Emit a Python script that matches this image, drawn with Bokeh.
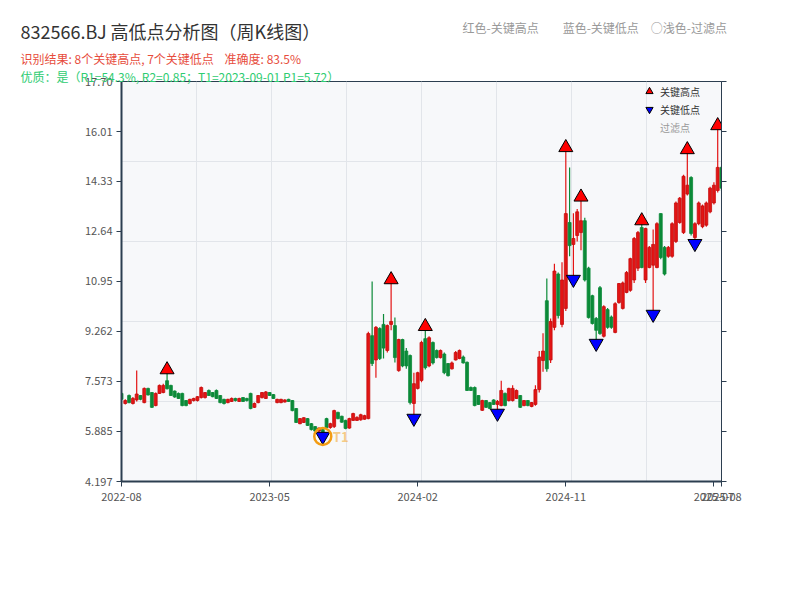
from bokeh.plotting import figure
from bokeh.models import (Range1d, LinearAxis, FixedTicker, Title, Legend, LegendItem,
                          ColumnDataSource)
from bokeh.embed import file_html
from bokeh.resources import INLINE
from bokeh.core.properties import value

# ---------------- data (weekly candles) ----------------
open_ = [7.17, 6.83, 7.10, 6.83, 6.95, 7.10, 6.86, 7.34, 7.20, 6.76,
         7.17, 7.20, 7.60, 7.44, 7.25, 7.17, 7.17, 6.93, 6.83, 6.93,
         6.93, 7.03, 7.03, 7.27, 7.20, 7.27, 7.10, 6.97, 6.86, 6.90,
         7.00, 6.90, 7.03, 7.00, 7.17, 6.70, 6.86, 7.03, 7.00, 7.20,
         7.13, 6.86, 6.86, 6.88, 6.97, 6.93, 6.66, 6.15, 6.19, 6.32,
         6.15, 6.05, 5.90, 5.95, 6.32, 6.02, 6.05, 6.53, 6.40, 6.26,
         6.00, 6.26, 6.26, 6.28, 6.30, 6.32, 9.12, 8.30, 9.36, 9.50,
         8.62, 9.50, 9.46, 7.94, 8.99, 8.60, 8.45, 6.83, 7.34, 7.61,
         9.02, 8.10, 8.89, 8.62, 8.38, 8.50, 8.18, 8.00, 8.30, 8.35,
         8.40, 8.22, 7.37, 7.37, 7.10, 6.60, 6.93, 6.86, 6.95, 6.80,
         6.76, 7.17, 6.93, 6.93, 7.00, 7.10, 6.76, 6.93, 6.73, 6.80,
         7.30, 8.28, 10.30, 8.30, 9.40, 11.20, 9.50, 10.04, 12.94, 12.20,
         12.50, 12.60, 13.00, 11.40, 10.47, 9.70, 10.74, 9.10, 10.00, 9.75,
         9.23, 10.24, 10.04, 10.58, 10.65, 11.00, 11.40, 12.77, 11.00, 11.42,
         11.50, 11.42, 13.24, 12.10, 11.80, 11.80, 12.30, 12.94, 12.60, 13.90,
         14.46, 12.43, 12.90, 12.80, 12.85, 13.30, 13.60, 14.02, 14.80]
high = [7.20, 6.97, 7.13, 7.05, 7.94, 7.12, 7.37, 7.36, 7.22, 7.20,
        7.47, 7.50, 7.97, 7.46, 7.27, 7.20, 7.19, 6.95, 6.99, 7.02,
        7.08, 7.40, 7.22, 7.30, 7.22, 7.30, 7.12, 6.99, 6.99, 7.03,
        7.02, 7.02, 7.05, 7.02, 7.19, 6.86, 7.12, 7.22, 7.25, 7.22,
        7.15, 6.99, 6.99, 6.97, 6.99, 6.95, 6.68, 6.34, 6.37, 6.34,
        6.17, 6.07, 6.02, 5.97, 6.35, 6.18, 6.62, 6.55, 6.42, 6.28,
        6.35, 6.52, 6.40, 6.48, 6.45, 9.25, 10.95, 9.45, 9.40, 9.85,
        9.50, 11.01, 9.73, 9.02, 9.02, 8.70, 8.48, 7.87, 7.90, 8.95,
        9.43, 9.10, 8.92, 8.65, 8.65, 8.55, 8.20, 8.25, 8.60, 8.65,
        8.45, 8.25, 7.40, 7.40, 7.12, 6.96, 6.95, 6.88, 6.97, 6.95,
        7.60, 7.20, 7.36, 7.45, 7.30, 7.12, 6.95, 6.95, 6.88, 7.45,
        8.60, 9.20, 11.05, 9.70, 11.55, 11.25, 11.60, 15.47, 14.80, 13.25,
        13.40, 13.80, 13.10, 11.45, 10.50, 9.75, 10.80, 10.15, 10.05, 9.80,
        10.25, 10.90, 10.95, 11.30, 11.75, 12.45, 12.65, 13.00, 12.76, 12.15,
        12.70, 12.95, 13.25, 12.15, 12.15, 12.95, 13.65, 13.80, 14.55, 15.40,
        14.50, 12.95, 13.65, 13.55, 13.65, 14.15, 14.30, 16.21, 14.85]
low = [6.95, 6.80, 6.84, 6.80, 6.90, 6.94, 6.84, 7.10, 6.68, 6.74,
       7.15, 7.18, 7.30, 7.08, 7.02, 6.98, 6.74, 6.74, 6.80, 6.90,
       6.90, 7.00, 7.00, 7.08, 7.04, 6.98, 6.84, 6.80, 6.84, 6.88,
       6.90, 6.88, 6.88, 6.90, 6.64, 6.68, 6.84, 7.00, 6.98, 7.08,
       6.98, 6.84, 6.84, 6.86, 6.88, 6.57, 6.17, 6.13, 6.17, 6.07,
       5.92, 5.85, 5.85, 5.72, 5.98, 5.98, 6.00, 6.30, 6.18, 5.96,
       5.98, 6.24, 6.24, 6.25, 6.28, 6.30, 8.10, 7.70, 8.30, 8.35,
       8.55, 9.30, 8.21, 7.90, 8.05, 8.00, 6.80, 6.33, 7.30, 7.55,
       7.98, 8.05, 8.15, 8.35, 8.35, 7.82, 7.74, 7.98, 8.28, 8.32,
       8.18, 7.25, 7.25, 6.74, 6.78, 6.58, 6.68, 6.64, 6.78, 6.50,
       6.74, 6.74, 6.90, 6.90, 6.98, 6.68, 6.74, 6.74, 6.70, 6.75,
       7.20, 7.90, 7.90, 8.20, 9.30, 9.70, 9.40, 9.95, 11.80, 11.02,
       12.30, 12.00, 10.95, 9.70, 9.50, 8.86, 9.15, 9.06, 9.35, 9.35,
       9.20, 10.20, 10.00, 10.55, 10.60, 10.90, 11.30, 11.40, 10.90, 11.40,
       9.84, 11.40, 11.70, 11.15, 11.75, 11.75, 12.25, 12.90, 12.55, 13.85,
       12.50, 12.23, 12.85, 12.75, 12.80, 13.25, 13.55, 13.95, 14.00]
close = [6.97, 6.93, 6.86, 7.00, 7.15, 6.97, 7.34, 7.12, 6.70, 7.17,
         7.44, 7.44, 7.33, 7.10, 7.05, 7.00, 6.76, 6.76, 6.97, 7.00,
         7.06, 7.37, 7.20, 7.10, 7.06, 7.00, 6.86, 6.83, 6.97, 7.00,
         6.93, 7.00, 6.90, 6.93, 6.66, 6.83, 7.10, 7.20, 7.22, 7.10,
         7.00, 6.97, 6.97, 6.95, 6.90, 6.59, 6.19, 6.32, 6.35, 6.09,
         5.95, 5.90, 6.00, 5.78, 6.02, 6.15, 6.59, 6.32, 6.20, 5.99,
         6.32, 6.49, 6.36, 6.45, 6.42, 9.19, 8.18, 9.40, 8.35, 8.70,
         9.46, 9.60, 8.38, 8.99, 8.10, 8.10, 6.86, 7.50, 7.87, 8.89,
         8.04, 9.05, 8.20, 8.38, 8.62, 7.87, 7.77, 8.20, 8.55, 8.62,
         8.20, 7.27, 7.27, 6.76, 6.80, 6.93, 6.70, 6.66, 6.80, 6.90,
         7.27, 6.76, 7.34, 7.34, 7.27, 6.70, 6.93, 6.76, 6.86, 7.30,
         8.40, 8.60, 8.00, 9.60, 11.30, 9.80, 11.00, 13.24, 12.16, 12.40,
         13.30, 13.00, 11.00, 9.73, 9.53, 9.30, 9.19, 10.10, 9.40, 9.40,
         10.20, 10.88, 10.90, 11.25, 11.72, 12.40, 12.60, 11.42, 12.74, 12.10,
         12.20, 12.90, 11.76, 11.20, 12.10, 12.90, 13.60, 13.76, 14.50, 14.20,
         12.57, 12.90, 13.60, 13.50, 13.60, 14.10, 14.20, 14.80, 14.10]

key_high_idx = [12, 71, 80, 117, 121, 137, 149, 157]
key_low_idx = [53, 77, 99, 119, 125, 140, 151]
t1_idx = 53

xtick_idx = [0, 39, 78, 117, 156, 158]
xtick_labels = ["2022-08", "2023-05", "2024-02", "2024-11", "2025-07", "2025-08"]
ytick_labels = ["4.197", "5.885", "7.573", "9.262", "10.95", "12.64", "14.33", "16.01", "17.70"]
y_min, y_max = 4.197, 17.70

NB = "\u00a0"
IS = "\u3000"
title_main = "832566.BJ 高低点分析图（周K线图）"
title_red = "识别结果: 8个关键高点, 7个关键低点 " + NB * 3 + "准确度: 83.5%"
title_green = "优质：是（R1=54.3%, R2=0.85；T1=2023-09-01 P1=5.72）"
subtitle = "红色-关键高点" + IS * 2 + "蓝色-关键低点" + IS + "○浅色-过滤点"

# ---------------- figure ----------------
FONT = "Noto Sans CJK SC"
N = len(close)
xs = list(range(N))
FL, FT, FW, FH = 121, 81, 600, 400
p = figure(frame_width=FW, frame_height=FH, min_border_left=FL, min_border_right=71,
           min_border_top=FT, min_border_bottom=111,
           x_range=Range1d(0, N - 1), y_range=Range1d(y_min, y_max),
           output_backend="svg", toolbar_location=None, tools="")
p.background_fill_color = "#f7f8fa"
p.border_fill_color = "white"
p.outline_line_color = "#2c3e50"
p.outline_line_width = 1

ytick_vals = [float(s) for s in ytick_labels]
p.yaxis.ticker = FixedTicker(ticks=ytick_vals)
p.yaxis.major_label_overrides = {v: s for v, s in zip(ytick_vals, ytick_labels)}
p.xaxis.ticker = FixedTicker(ticks=xtick_idx)
p.xaxis.major_label_overrides = {i: s for i, s in zip(xtick_idx, xtick_labels)}

right = LinearAxis(ticker=FixedTicker(ticks=ytick_vals),
                   major_label_overrides={v: "" for v in ytick_vals})
p.add_layout(right, "right")

for ax in [p.xaxis[0], p.yaxis[0], right]:
    ax.axis_line_color = "#2c3e50"
    ax.axis_line_width = 2
    ax.major_tick_line_color = "#2c3e50"
    ax.major_tick_line_width = 1
    ax.major_tick_out = 5
    ax.major_tick_in = 0
    ax.minor_tick_line_color = None
    ax.major_label_text_color = "#555555"
    ax.major_label_text_font = FONT
    ax.major_label_standoff = 4
right.axis_line_width = 1
p.xaxis.major_label_text_font_size = "11px"
p.yaxis.major_label_text_font_size = "11px"
p.xaxis.major_label_standoff = 6

p.xgrid.ticker = FixedTicker(ticks=[k * (N - 1) / 8 for k in range(1, 8)])
p.ygrid.ticker = FixedTicker(ticks=[y_min + k * (y_max - y_min) / 5 for k in range(1, 5)])
p.xgrid.grid_line_color = "#e2e5ea"
p.ygrid.grid_line_color = "#e2e5ea"

# ---------------- candles ----------------
up = [c >= o for o, c in zip(open_, close)]
src = ColumnDataSource(dict(
    x=xs, o=open_, h=high, l=low, c=close,
    top=[max(o, c) for o, c in zip(open_, close)],
    bot=[min(o, c) for o, c in zip(open_, close)],
    col=["#e31414" if u else "#0b8a38" for u in up],
    edge=["#c40c0c" if u else "#0b8a38" for u in up],
))
p.segment(x0="x", y0="h", x1="x", y1="l", color="col", line_width=1.2, source=src)
p.vbar(x="x", width=0.78, top="top", bottom="bot", fill_color="col", line_color="edge",
       line_width=0.8, source=src)

# ---------------- key points (centred on the extreme prices) ----------------
hi_src = ColumnDataSource(dict(x=key_high_idx, y=[high[i] for i in key_high_idx]))
lo_src = ColumnDataSource(dict(x=key_low_idx, y=[low[i] for i in key_low_idx]))
r_hi = p.scatter("x", "y", source=hi_src, marker="triangle", size=14,
                 fill_color="#ff0000", line_color="black", line_width=1)
r_lo = p.scatter("x", "y", source=lo_src, marker="inverted_triangle", size=14,
                 fill_color="#0000ff", line_color="black", line_width=1)
r_f = p.scatter(x=[], y=[], marker="triangle", size=8, fill_color="#ffd8d8",
                line_color="black", line_width=1)

p.scatter(x=[t1_idx], y=[low[t1_idx]], marker="circle", size=17, fill_color=None,
          line_color="#f39c12", line_width=2.5)
p.text(x=[t1_idx], y=[low[t1_idx]], text=["T1"], x_offset=10, text_baseline="middle",
       text_color="#f5b041", text_alpha=0.65, text_font_size="13px",
       text_font=value(FONT), text_font_style="bold")

# ---------------- legends (inside the plot, top right) ----------------
ROW = 18
def style_legend(lg, colr):
    lg.background_fill_alpha = 0
    lg.border_line_color = None
    lg.padding = 0
    lg.margin = 0
    lg.spacing = 0
    lg.glyph_width = 20
    lg.glyph_height = ROW
    lg.label_height = ROW
    lg.label_standoff = 1
    lg.label_text_font_size = "10px"
    lg.label_text_font = FONT
    lg.label_text_color = colr

leg_k = Legend(items=[LegendItem(label="关键高点", renderers=[r_hi]),
                      LegendItem(label="关键低点", renderers=[r_lo])],
               location=(639 - FL, FH - 1 - 2 * ROW))
style_legend(leg_k, "#333333")
leg_f = Legend(items=[LegendItem(label="过滤点", renderers=[r_f])],
               location=(639 - FL, FH - 1 - 3 * ROW))
style_legend(leg_f, "#999999")
p.add_layout(leg_k)
p.add_layout(leg_f)

# ---------------- title band (rows stacked upward from the plot) ----------------
H12, H18 = 16, 26   # text box heights of 12px / 18px lines

def add_title(text, size, color, row_h, h, x=20):
    p.add_layout(Title(text=text, align="left", offset=x - FL, vertical_align="middle",
                       text_font=FONT, text_font_size=size, text_color=color,
                       text_font_style="normal", standoff=row_h - 2 - h), "above")

add_title(title_green, "12px", "#2ecc71", 10, H12)          # row 71..81
add_title(title_red, "12px", "#e74c3c", 24, H12)            # row 47..71
add_title(" ", "12px", "#ffffff", 14, H12)                  # spacer 33..47
add_title(title_main, "18px", "#333333", 0, H18)            # centred at 33
add_title(" ", "12px", "#ffffff", 2, H12)                   # spacer 31..33
add_title(subtitle, "12px", "#999999", 0, H12, x=462)       # centred at 31

open("out.html", "w").write(file_html(p, INLINE))
